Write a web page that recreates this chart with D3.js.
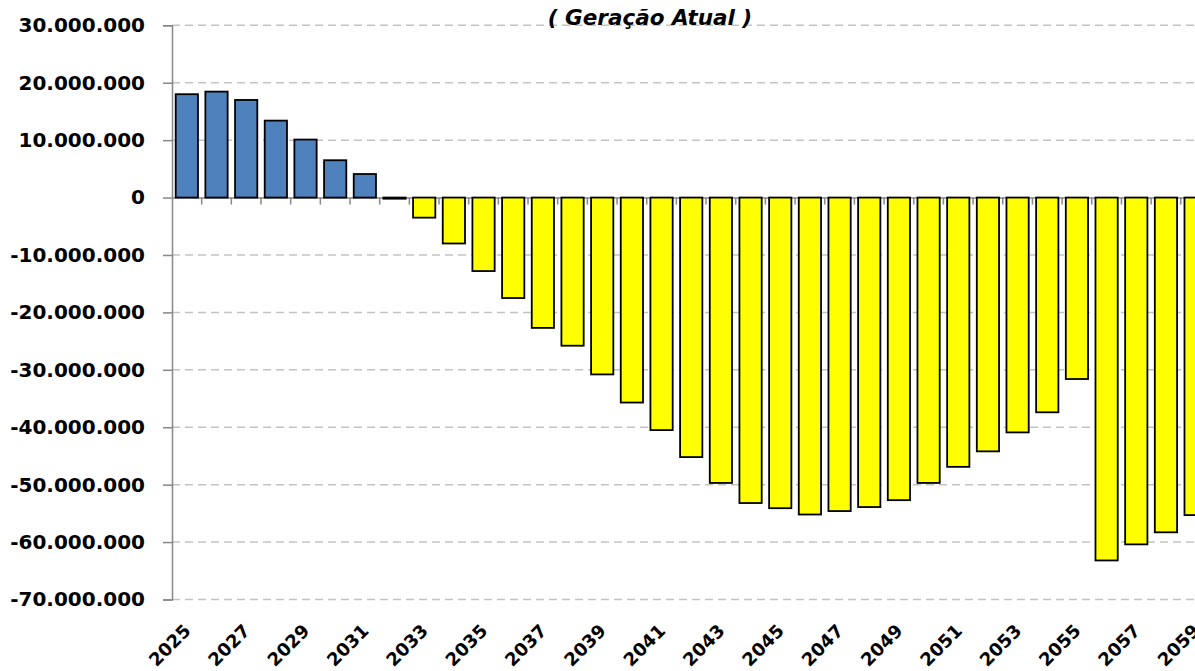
<!DOCTYPE html>
<html>
<head>
<meta charset="utf-8">
<script src="https://cdn.jsdelivr.net/npm/d3@7"></script>
<style>
  html, body { margin: 0; padding: 0; background: #fff; }
  svg { display: block; }
</style>
</head>
<body>
<script>
// ---- data ----
const title = "( Geração Atual )";
const years = d3.range(2025, 2060).map(String);
const values = [
  18.0, 18.45, 17.0, 13.4, 10.1, 6.5, 4.1, -0.2,
  -3.5, -8.0, -12.8, -17.5, -22.7, -25.8, -30.8, -35.7,
  -40.5, -45.2, -49.7, -53.2, -54.1, -55.2, -54.6, -53.9,
  -52.7, -49.7, -46.9, -44.2, -40.9, -37.4, -31.6, -63.2,
  -60.4, -58.3, -55.3
].map(v => v * 1e6);
const yTicks = [30e6, 20e6, 10e6, 0, -10e6, -20e6, -30e6, -40e6, -50e6, -60e6, -70e6];
const xTickLabels = years.filter((d, i) => i % 2 === 0);

// ---- layout ----
const W = 1195, H = 671;
const left = 172, step = 29.67;
const svg = d3.select("body").append("svg").attr("width", W).attr("height", H);

const x = d3.scaleBand().domain(years).range([left, left + step * years.length])
  .paddingInner(0.25).paddingOuter(0.125);
const y = d3.scaleLinear().domain([-70e6, 30e6]).range([599.5, 25.3]);

const loc = d3.formatLocale({decimal: ",", thousands: ".", grouping: [3], currency: ["", ""], minus: "-"});
const fmt = loc.format(",.0f");

const font = "'DejaVu Sans', sans-serif";

// gridlines (dashed)
svg.append("g").selectAll("line").data(yTicks.filter(d => d !== 0)).join("line")
  .attr("x1", left).attr("x2", W)
  .attr("y1", d => y(d)).attr("y2", d => y(d))
  .attr("stroke", "#c3c3c3").attr("stroke-width", 1.5).attr("stroke-dasharray", "8,5");

// y axis
const yAxis = svg.append("g").attr("transform", `translate(${left},0)`)
  .call(d3.axisLeft(y).tickValues(yTicks).tickFormat(fmt).tickSize(9).tickPadding(18));
yAxis.select(".domain").attr("stroke", "#878787").attr("stroke-width", 1.5);
yAxis.selectAll(".tick line").attr("stroke", "#878787").attr("stroke-width", 1.5);
yAxis.selectAll(".tick text").attr("font-family", font).attr("font-weight", "bold")
  .attr("font-size", 20).attr("fill", "#000");

// zero line with category tick marks
const zeroAxis = svg.append("g").attr("transform", `translate(0,${y(0)})`)
  .call(d3.axisBottom(x).tickValues([]).tickSizeOuter(0));
zeroAxis.select(".domain").attr("stroke", "#878787").attr("stroke-width", 1.5);
svg.append("g").selectAll("line").data(years.slice(1)).join("line")
  .attr("x1", d => x(d) - x.step() * x.paddingInner() / 2)
  .attr("x2", d => x(d) - x.step() * x.paddingInner() / 2)
  .attr("y1", y(0)).attr("y2", y(0) + 7)
  .attr("stroke", "#878787").attr("stroke-width", 1.5);

// bars
svg.append("g").selectAll("rect").data(years).join("rect")
  .attr("x", d => x(d))
  .attr("width", x.bandwidth())
  .attr("y", (d, i) => y(Math.max(0, values[i])))
  .attr("height", (d, i) => Math.abs(y(values[i]) - y(0)))
  .attr("fill", (d, i) => values[i] >= 0 ? "#4f81bd" : "#ffff00")
  .attr("stroke", "#000").attr("stroke-width", 1.8);

// x labels (rotated)
svg.append("g").selectAll("text").data(xTickLabels).join("text")
  .attr("transform", d => `translate(${x(d) + x.bandwidth() / 2 + 5},632) rotate(-45)`)
  .attr("text-anchor", "end")
  .attr("font-family", font).attr("font-weight", "bold").attr("font-size", 18)
  .attr("fill", "#000")
  .text(d => d);

// title
svg.append("text")
  .attr("x", 650).attr("y", 25)
  .attr("text-anchor", "middle")
  .attr("font-family", font).attr("font-weight", "bold").attr("font-style", "italic")
  .attr("font-size", 21.5).attr("fill", "#000")
  .text(title);
</script>
</body>
</html>
